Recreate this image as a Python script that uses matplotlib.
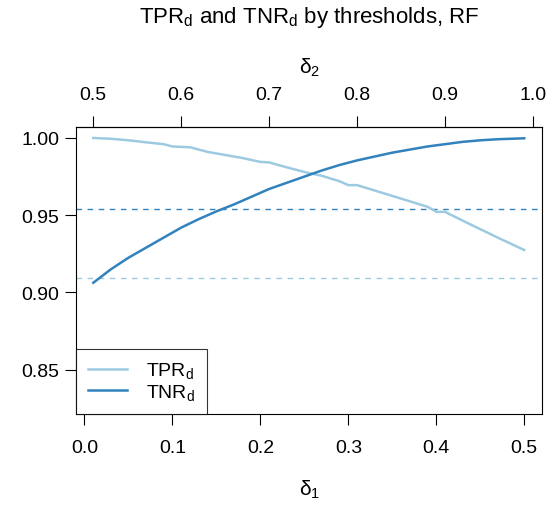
import matplotlib
matplotlib.use("Agg")
import matplotlib.pyplot as plt

plt.rcParams['font.family'] = ['Liberation Sans', 'DejaVu Sans']
plt.rcParams['mathtext.fontset'] = 'custom'
plt.rcParams['mathtext.rm'] = 'Liberation Sans'
plt.rcParams['mathtext.it'] = 'Liberation Sans:italic'

# delta_1 thresholds and rates
tpr_x = [0.01, 0.03, 0.05, 0.07, 0.09, 0.10, 0.12, 0.14, 0.16, 0.18, 0.20, 0.21,
         0.23, 0.25, 0.27, 0.29, 0.30, 0.31, 0.33, 0.35, 0.37, 0.39, 0.40, 0.41,
         0.43, 0.45, 0.47, 0.50]
tpr = [1.000, 0.9995, 0.9985, 0.9972, 0.9960, 0.9945, 0.9940, 0.9910, 0.9890, 0.9870,
       0.9845, 0.9842, 0.9810, 0.9780, 0.9755, 0.9720, 0.9695, 0.9695, 0.9660, 0.9625,
       0.9590, 0.9555, 0.9522, 0.9522, 0.9465, 0.9410, 0.9355, 0.9275]
tnr_x = [0.01, 0.03, 0.05, 0.07, 0.09, 0.11, 0.13, 0.15, 0.17, 0.19, 0.21, 0.23, 0.25,
         0.27, 0.29, 0.31, 0.33, 0.35, 0.37, 0.39, 0.41, 0.43, 0.45, 0.47, 0.50]
tnr = [0.9063, 0.9150, 0.9225, 0.9290, 0.9355, 0.9420, 0.9475, 0.9525, 0.9570, 0.9620,
       0.9670, 0.9710, 0.9750, 0.9790, 0.9825, 0.9855, 0.9880, 0.9905, 0.9925, 0.9945,
       0.9960, 0.9975, 0.9985, 0.9992, 0.9998]
ref_tnr = 0.9540
ref_tpr = 0.9093

light = '#9ecae1'
dark = '#3182bd'

fig = plt.figure(figsize=(5.55, 5.06), dpi=100)
ax = fig.add_axes([0.137, 0.180, 0.840, 0.567])

ax.axhline(ref_tnr, color=dark, lw=1, ls=(0, (4, 4)))
ax.axhline(ref_tpr, color=light, lw=1, ls=(0, (4, 4)))
ax.plot(tpr_x, tpr, color=light, lw=1.8, label=r'TPR$_\mathregular{d}$')
ax.plot(tnr_x, tnr, color=dark, lw=1.8, label=r'TNR$_\mathregular{d}$')

ax.set_xlim(-0.0096, 0.5205)
ax.set_ylim(0.8214, 1.0071)
ax.set_xticks([0.0, 0.1, 0.2, 0.3, 0.4, 0.5])
ax.set_yticks([0.85, 0.90, 0.95, 1.00])
ax.set_yticklabels(['0.85', '0.90', '0.95', '1.00'])
ax.tick_params(labelsize=14, length=8, width=0.8, pad=4)
ax.tick_params(axis='x', pad=10)

for s in ax.spines.values():
    s.set_linewidth(0.8)

top = ax.secondary_xaxis('top', functions=(lambda x: x + 0.49, lambda x: x - 0.49))
top.set_xticks([0.5, 0.6, 0.7, 0.8, 0.9, 1.0])
top.set_xticklabels(['0.5', '0.6', '0.7', '0.8', '0.9', '1.0'])
top.tick_params(labelsize=14, length=8, width=0.8, pad=9)
top.set_xlabel(r'δ$_\mathregular{2}$', fontsize=15, labelpad=10)

ax.set_xlabel(r'δ$_\mathregular{1}$', fontsize=15, labelpad=16)
fig.suptitle(r'TPR$_\mathregular{d}$ and TNR$_\mathregular{d}$ by thresholds, RF',
             fontsize=16, x=0.557, y=0.99)

leg = ax.legend(loc='lower left', borderaxespad=0, fancybox=False, fontsize=14,
                handlelength=2.0, handletextpad=1.0, borderpad=0.6, labelspacing=0.1)
leg.get_frame().set_edgecolor('black')
leg.get_frame().set_linewidth(0.8)

fig.savefig('out.png', dpi=100)
